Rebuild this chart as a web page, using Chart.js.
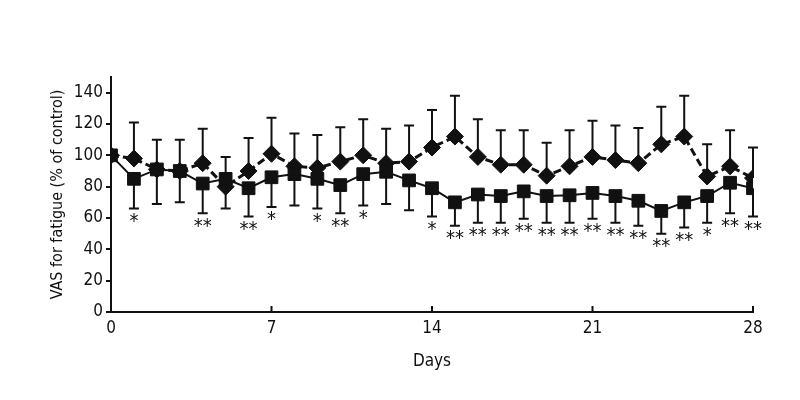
<!DOCTYPE html>
<html>
<head>
<meta charset="utf-8">
<script src="https://cdn.jsdelivr.net/npm/chart.js@4"></script>
<style>
  html, body { margin: 0; padding: 0; background: #fff; }
  #wrap { width: 800px; height: 400px; }
</style>
</head>
<body>
<div id="wrap"><canvas id="chart" width="800" height="400"></canvas></div>
<script>
'use strict';

// days 0..28
const days = [0,1,2,3,4,5,6,7,8,9,10,11,12,13,14,15,16,17,18,19,20,21,22,23,24,25,26,27,28];

// diamond series (dashed) and its upper error bar ends
const diamondMean = [100,98,91,90,95,80,90,101,93,92,96,100,95,96,105,112,99,94,94,87,93,99,97,95,107,112,86.5,93,85.5];
const diamondUpper = [100,121,110,110,117,99,111,124,114,113,118,123,117,119,129,138,123,116,116,108,116,122,119,117.5,131,138,107,116,105];

// square series (solid) and its lower error bar ends
const squareMean = [100,85,91,90,82,85,79,86,88,85,81,88,89.5,84,79,70,75,74,77,74,74.5,76,74,71,64.5,70,74,82.5,79];
const squareLower = [100,66,69,70,63,66,61,67,68,66,63,68,69,65,61,55,57,57,59.5,57,57,59.5,57,55,50,54,57,63,61];

// significance marks under the square series
const marks = ['','*','','','**','','**','*','','*','**','*','','','*','**','**','**','**','**','**','**','**','**','**','**','*','**','**'];

const yTicks = [0,20,40,60,80,100,120,140];
const xTicks = [0,7,14,21,28];

const FONT = "'Liberation Sans Narrow', 'DejaVu Sans Condensed', sans-serif";

const extras = {
    id: 'extras',
    afterDatasetsDraw(chart) {
        const ctx = chart.ctx;
        const xs = chart.scales.x;
        const ys = chart.scales.y;
        ctx.save();
        ctx.strokeStyle = '#111';
        ctx.lineWidth = 2;
        const cap = 5;
        days.forEach((d, i) => {
            const x = xs.getPixelForValue(d);
            // upper bar for diamonds
            const y0 = ys.getPixelForValue(diamondMean[i]);
            const y1 = ys.getPixelForValue(diamondUpper[i]);
            if (y1 < y0 - 1) {
                ctx.beginPath();
                ctx.moveTo(x, y0); ctx.lineTo(x, y1);
                ctx.moveTo(x - cap, y1); ctx.lineTo(x + cap, y1);
                ctx.stroke();
            }
            // lower bar for squares
            const s0 = ys.getPixelForValue(squareMean[i]);
            const s1 = ys.getPixelForValue(squareLower[i]);
            if (s1 > s0 + 1) {
                ctx.beginPath();
                ctx.moveTo(x, s0); ctx.lineTo(x, s1);
                ctx.moveTo(x - cap, s1); ctx.lineTo(x + cap, s1);
                ctx.stroke();
            }
            // asterisks
            if (marks[i]) {
                ctx.fillStyle = '#111';
                ctx.font = '20px ' + FONT;
                ctx.textAlign = 'center';
                ctx.textBaseline = 'top';
                ctx.fillText(marks[i], x, s1 + 3);
            }
        });
        // x ticks pointing up into the plot
        ctx.lineWidth = 2;
        xTicks.forEach(t => {
            const x = xs.getPixelForValue(t);
            ctx.beginPath();
            ctx.moveTo(x, xs.top);
            ctx.lineTo(x, xs.top - 6);
            ctx.stroke();
        });
        ctx.restore();
    }
};

const config = {
    type: 'scatter',
    data: {
        datasets: [
            {
                label: 'Diamond',
                data: days.map((d, i) => ({ x: d, y: diamondMean[i] })),
                showLine: true,
                borderColor: '#111',
                borderWidth: 3,
                borderDash: [8, 4],
                pointStyle: 'rectRot',
                pointRadius: 8.5,
                pointBorderWidth: 1,
                pointBackgroundColor: '#111',
                pointBorderColor: '#111',
                order: 2
            },
            {
                label: 'Square',
                data: days.map((d, i) => ({ x: d, y: squareMean[i] })),
                showLine: true,
                borderColor: '#111',
                borderWidth: 2,
                pointStyle: 'rect',
                pointRadius: 9,
                pointBorderWidth: 1,
                pointBackgroundColor: '#111',
                pointBorderColor: '#111',
                order: 1
            }
        ]
    },
    options: {
        responsive: false,
        animation: false,
        layout: { padding: { left: 44, right: 47, top: 77, bottom: 24 } },
        plugins: {
            legend: { display: false },
            tooltip: { enabled: false }
        },
        scales: {
            x: {
                type: 'linear',
                min: 0,
                max: 28,
                afterBuildTicks: s => { s.ticks = xTicks.map(v => ({ value: v })); },
                afterFit: s => { s.height = 64; },
                grid: { display: false, drawTicks: false },
                border: { color: '#111', width: 2 },
                ticks: { color: '#111', padding: 6, font: { family: FONT, size: 17 } },
                title: { display: true, text: 'Days', color: '#111', padding: { top: 8 }, font: { family: FONT, size: 17 } }
            },
            y: {
                min: 0,
                max: 150,
                afterBuildTicks: s => { s.ticks = yTicks.map(v => ({ value: v })); },
                afterFit: s => { s.width = 67; },
                grid: { drawOnChartArea: false, drawTicks: true, tickLength: 5, color: '#111', lineWidth: 2 },
                border: { color: '#111', width: 2 },
                ticks: { color: '#111', padding: 3, font: { family: FONT, size: 17 } },
                title: { display: true, text: 'VAS for fatigue (% of control)', color: '#111', padding: { bottom: 2 }, font: { family: FONT, size: 16 } }
            }
        }
    },
    plugins: [extras]
};

document.addEventListener('DOMContentLoaded', () => {
    new Chart(document.getElementById('chart'), config);
});
</script>
</body>
</html>
